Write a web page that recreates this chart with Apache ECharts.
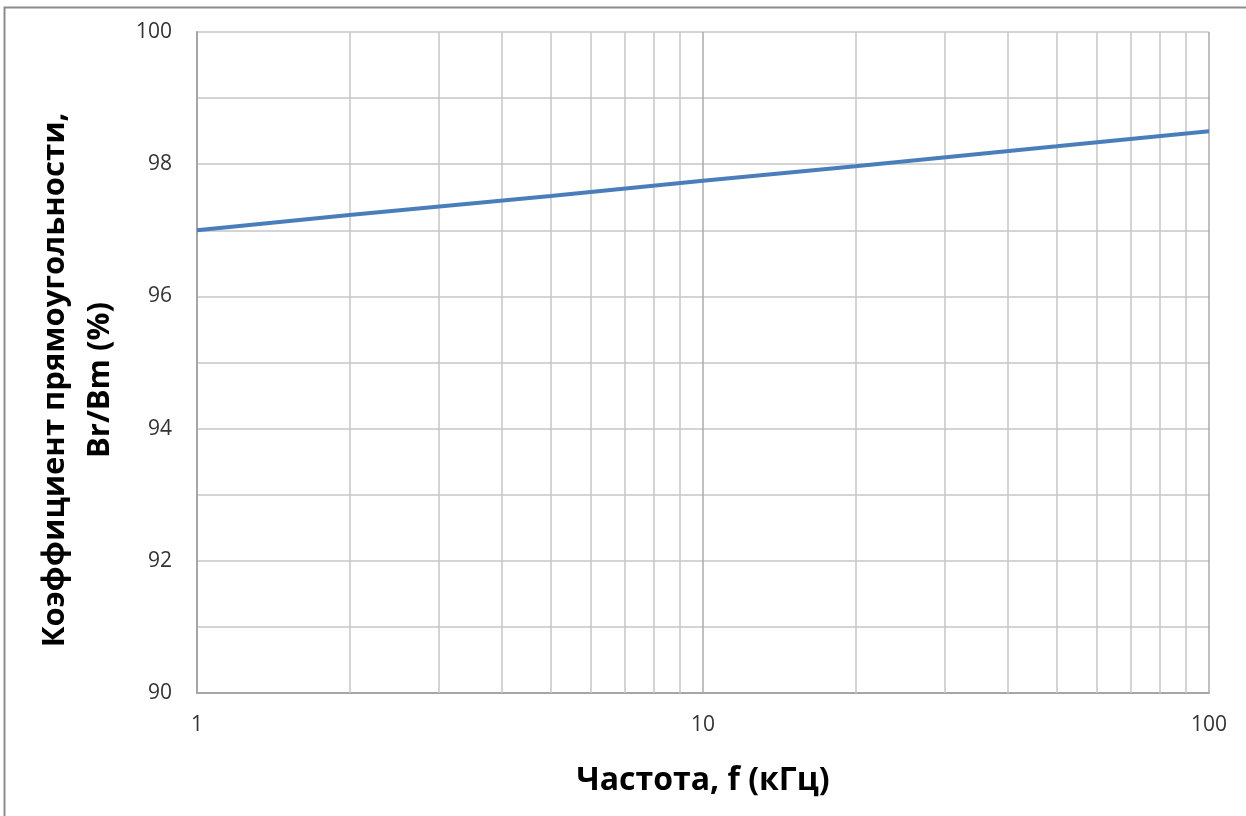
<!DOCTYPE html>
<html>
<head>
<meta charset="utf-8">
<script src="https://cdn.jsdelivr.net/npm/echarts@6/dist/echarts.min.js"></script>
<style>
  html, body { margin: 0; padding: 0; background: #fff; }
  #chart { width: 1246px; height: 816px; }
</style>
</head>
<body>
<div id="chart"></div>
<script>
// частота, кГц
const freq = [1, 2, 5, 10, 20, 50, 100];
// Br/Bm, %
const ratio = [97.0, 97.23, 97.52, 97.75, 97.97, 98.27, 98.5];
// вспомогательные линии сетки по оси X
const minorFreq = [2, 3, 4, 5, 6, 7, 8, 9, 20, 30, 40, 50, 60, 70, 80, 90];

const chart = echarts.init(document.getElementById('chart'));

const gridColor = '#c6c6c6';
const fontFamily = '"Open Sans", "Noto Sans", sans-serif';

chart.setOption({
  animation: false,
  grid: { left: 197, right: 37, top: 32, bottom: 123 },
  graphic: [
    {
      type: 'rect',
      shape: { x: 4.5, y: 7.5, width: 1300, height: 900 },
      style: { fill: 'none', stroke: '#8c8c8c', lineWidth: 2 },
      silent: true
    },
    {
      type: 'text',
      x: 78, y: 380, rotation: Math.PI / 2,
      style: {
        text: 'Коэффициент прямоугольности,\nBr/Bm (%)',
        font: 'bold 31px ' + fontFamily,
        fill: '#000',
        align: 'center',
        verticalAlign: 'middle',
        lineHeight: 45
      }
    }
  ],
  xAxis: {
    type: 'log',
    logBase: 10,
    min: 1,
    max: 100,
    name: 'Частота, f (кГц)',
    nameLocation: 'middle',
    nameGap: 72,
    nameTextStyle: { fontSize: 32, fontWeight: 'bold', color: '#000', fontFamily: fontFamily },
    axisLine: { show: true, lineStyle: { color: '#a6a6a6', width: 2 } },
    axisTick: { show: false },
    axisLabel: { color: '#333', fontSize: 21, margin: 22, fontFamily: fontFamily },
    splitLine: { show: true, lineStyle: { color: '#aaaaaa', width: 1.5 } }
  },
  yAxis: {
    type: 'value',
    min: 90,
    max: 100,
    interval: 1,
    axisLine: { show: true, lineStyle: { color: '#a6a6a6', width: 2 } },
    axisTick: { show: false },
    axisLabel: {
      color: '#333', fontSize: 21, margin: 25, fontFamily: fontFamily,
      formatter: v => (v % 2 === 0 ? String(v) : '')
    },
    splitLine: { show: true, lineStyle: { color: gridColor, width: 1.5 } }
  },
  series: [
    {
      type: 'line',
      data: [],
      silent: true,
      markLine: {
        silent: true,
        symbol: 'none',
        label: { show: false },
        lineStyle: { color: gridColor, width: 1.5, type: 'solid' },
        data: minorFreq.map(f => ({ xAxis: f }))
      }
    },
    {
      type: 'line',
      data: freq.map((f, i) => [f, ratio[i]]),
      showSymbol: false,
      lineStyle: { color: '#4a7ebb', width: 4 },
      itemStyle: { color: '#4a7ebb' },
      z: 5
    }
  ]
});
</script>
</body>
</html>
